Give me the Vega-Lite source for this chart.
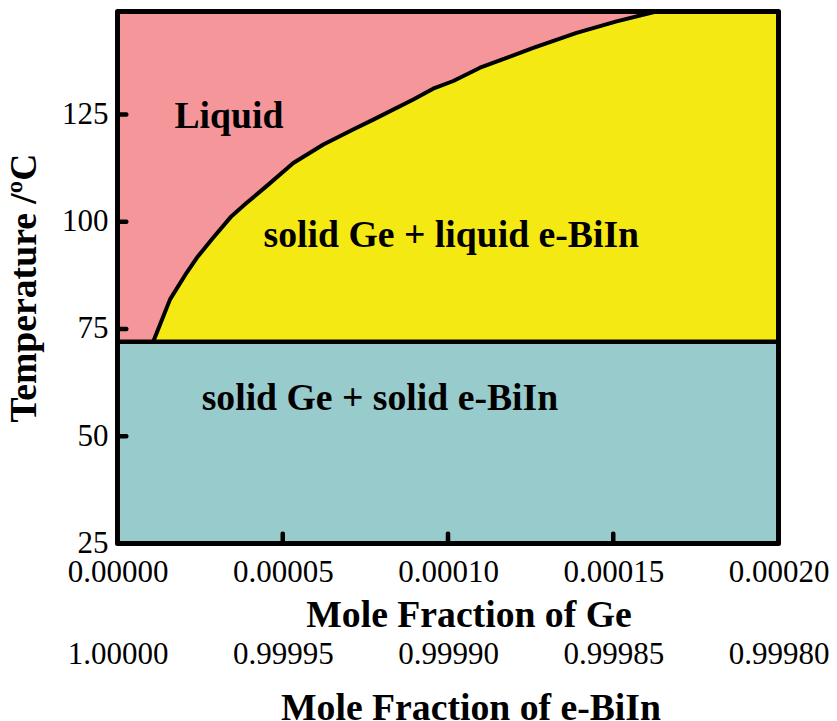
{
  "$schema": "https://vega.github.io/schema/vega-lite/v6.json",
  "autosize": {"type": "none"},
  "padding": {"left": 117.5, "top": 11.5, "right": 58, "bottom": 177},
  "width": 661,
  "height": 532,
  "background": "white",
  "config": {
    "view": {"stroke": null},
    "font": "Liberation Serif",
    "axis": {
      "labelFont": "Liberation Serif",
      "titleFont": "Liberation Serif",
      "labelFontSize": 31,
      "titleFontSize": 37.7,
      "titleFontWeight": "bold",
      "labelColor": "black",
      "titleColor": "black",
      "grid": false,
      "domain": false,
      "ticks": false,
      "labelFlush": false,
      "labelOverlap": false
    }
  },
  "datasets": {
    "regions": [
      {"x0": 0, "x1": 0.0002, "t0": 25, "t1": 72, "phase": "solid Ge + solid e-BiIn"},
      {"x0": 0, "x1": 0.0002, "t0": 72, "t1": 149, "phase": "Liquid"}
    ],
    "liquidus": [
      {"xGe": 0.0000108, "T": 72.0, "part": "curve"},
      {"xGe": 0.0000139, "T": 78.0, "part": "curve"},
      {"xGe": 0.0000159, "T": 81.9, "part": "curve"},
      {"xGe": 0.0000209, "T": 88.1, "part": "curve"},
      {"xGe": 0.0000240, "T": 91.6, "part": "curve"},
      {"xGe": 0.0000290, "T": 96.3, "part": "curve"},
      {"xGe": 0.0000345, "T": 101.3, "part": "curve"},
      {"xGe": 0.0000391, "T": 104.4, "part": "curve"},
      {"xGe": 0.0000451, "T": 108.3, "part": "curve"},
      {"xGe": 0.0000532, "T": 113.7, "part": "curve"},
      {"xGe": 0.0000623, "T": 118.0, "part": "curve"},
      {"xGe": 0.0000713, "T": 121.5, "part": "curve"},
      {"xGe": 0.0000774, "T": 123.8, "part": "curve"},
      {"xGe": 0.0000895, "T": 128.5, "part": "curve"},
      {"xGe": 0.0000955, "T": 131.0, "part": "curve"},
      {"xGe": 0.0001016, "T": 132.8, "part": "curve"},
      {"xGe": 0.0001097, "T": 135.9, "part": "curve"},
      {"xGe": 0.0001258, "T": 140.5, "part": "curve"},
      {"xGe": 0.0001389, "T": 144.0, "part": "curve"},
      {"xGe": 0.0001510, "T": 146.7, "part": "curve"},
      {"xGe": 0.0001630, "T": 149.0, "part": "curve"},
      {"xGe": 0.0002000, "T": 149.0, "part": "corner"}
    ],
    "labels": [
      {"xGe": 0.0000337, "T": 121.9, "label": "Liquid"},
      {"xGe": 0.0001010, "T": 94.2, "label": "solid Ge + liquid e-BiIn"},
      {"xGe": 0.0000794, "T": 56.2, "label": "solid Ge + solid e-BiIn"}
    ],
    "tempTicks": [
      {"T": 50},
      {"T": 75},
      {"T": 100},
      {"T": 125}
    ],
    "geTicks": [
      {"xGe": 0.00005},
      {"xGe": 0.0001},
      {"xGe": 0.00015}
    ],
    "biin": [
      {"xBiIn": 1.0},
      {"xBiIn": 0.9998}
    ]
  },
  "layer": [
    {
      "layer": [
        {
          "data": {"name": "regions"},
          "mark": {"type": "rect"},
          "encoding": {
            "x": {"field": "x0", "type": "quantitative"},
            "x2": {"field": "x1"},
            "y": {"field": "t0", "type": "quantitative"},
            "y2": {"field": "t1"},
            "color": {
              "field": "phase",
              "type": "nominal",
              "scale": {"domain": ["solid Ge + solid e-BiIn", "Liquid"], "range": ["#98CBCC", "#F5979A"]},
              "legend": null
            }
          }
        },
        {
          "data": {"name": "liquidus"},
          "mark": {"type": "area", "color": "#F5E913", "clip": true},
          "encoding": {
            "x": {"field": "xGe", "type": "quantitative"},
            "y": {"field": "T", "type": "quantitative"},
            "y2": {"datum": 72}
          }
        },
        {
          "data": {"name": "liquidus"},
          "transform": [{"filter": "datum.part === 'curve'"}],
          "mark": {"type": "line", "color": "black", "strokeWidth": 4, "clip": true, "strokeJoin": "round"},
          "encoding": {
            "x": {"field": "xGe", "type": "quantitative"},
            "y": {"field": "T", "type": "quantitative"}
          }
        },
        {
          "data": {"values": [{"T": 72}]},
          "mark": {"type": "rule", "color": "black", "strokeWidth": 4.5},
          "encoding": {
            "y": {"field": "T", "type": "quantitative"}
          }
        },
        {
          "data": {"name": "labels"},
          "mark": {"type": "text", "font": "Liberation Serif", "fontWeight": "bold", "fontSize": 37.7, "color": "black", "align": "center", "baseline": "alphabetic"},
          "encoding": {
            "x": {"field": "xGe", "type": "quantitative"},
            "y": {"field": "T", "type": "quantitative"},
            "text": {"field": "label"}
          }
        },
        {
          "data": {"name": "tempTicks"},
          "mark": {"type": "tick", "orient": "horizontal", "color": "black", "size": 22, "thickness": 4.5, "opacity": 1, "clip": true, "cornerRadius": 2},
          "encoding": {
            "x": {"datum": 0, "type": "quantitative"},
            "y": {"field": "T", "type": "quantitative"}
          }
        },
        {
          "data": {"name": "geTicks"},
          "mark": {"type": "tick", "orient": "vertical", "color": "black", "size": 24, "thickness": 4.5, "opacity": 1, "clip": true, "cornerRadius": 2},
          "encoding": {
            "x": {"field": "xGe", "type": "quantitative"},
            "y": {"datum": 25, "type": "quantitative"}
          }
        },
        {
          "data": {"name": "regions"},
          "transform": [{"filter": "datum.phase === 'Liquid'"}],
          "mark": {"type": "rect", "fill": null, "stroke": "black", "strokeWidth": 5, "strokeJoin": "round"},
          "encoding": {
            "x": {"datum": 0, "type": "quantitative"},
            "x2": {"datum": 0.0002},
            "y": {"datum": 25, "type": "quantitative"},
            "y2": {"datum": 149}
          }
        }
      ],
      "encoding": {
        "x": {
          "type": "quantitative",
          "scale": {"domain": [0, 0.0002], "nice": false, "zero": false},
          "axis": {
            "orient": "bottom",
            "title": "Mole Fraction of Ge",
            "values": [0, 0.00005, 0.0001, 0.00015, 0.0002],
            "format": ".5f",
            "labelPadding": 14,
            "titlePadding": 9,
            "titleX": 351
          }
        },
        "y": {
          "type": "quantitative",
          "scale": {"domain": [25, 149], "nice": false, "zero": false},
          "axis": {
            "title": "Temperature /ºC",
            "values": [25, 50, 75, 100, 125],
            "labelPadding": 9.5,
            "titlePadding": 18,
            "titleY": 276
          }
        }
      }
    },
    {
      "data": {"name": "biin"},
      "mark": {"type": "point", "opacity": 0},
      "encoding": {
        "x": {
          "field": "xBiIn",
          "type": "quantitative",
          "scale": {"domain": [1.0, 0.9998], "nice": false, "zero": false},
          "axis": {
            "orient": "bottom",
            "offset": 85,
            "title": "Mole Fraction of e-BiIn",
            "values": [1.0, 0.99995, 0.9999, 0.99985, 0.9998],
            "format": ".5f",
            "labelPadding": 11,
            "titlePadding": 20,
            "titleX": 353
          }
        }
      }
    }
  ],
  "resolve": {"scale": {"x": "independent"}, "axis": {"x": "independent"}}
}
